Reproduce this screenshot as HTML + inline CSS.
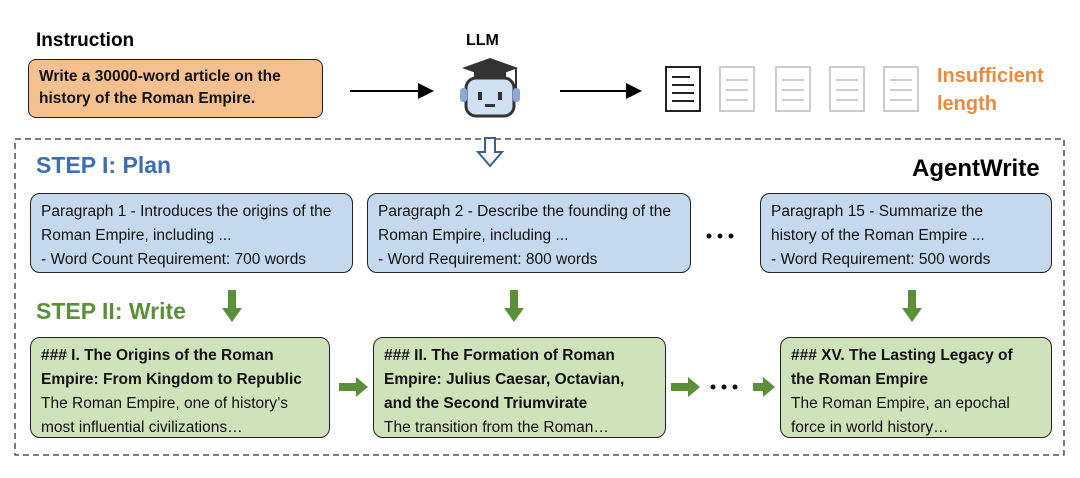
<!DOCTYPE html>
<html><head><style>
body{margin:0;width:1080px;height:478px;background:#fff;font-family:"Liberation Sans","DejaVu Sans",sans-serif;position:relative;overflow:hidden}
.a{position:absolute}
.box{position:absolute;border:1.5px solid #222;border-radius:10px;box-sizing:border-box;font-size:15.5px;line-height:24px;color:#111}
.blue{background:#c5d9ee;padding:6px 10px}
.green{background:#cfe3bb;padding:6px 10px}
b{font-weight:bold}
</style></head><body>
<div class="a" style="left:36px;top:30px;font-size:19px;font-weight:bold">Instruction</div>
<div class="box" style="left:28px;top:59px;width:295px;height:59px;background:#f5c08f;border-radius:8px;padding:6px 10px;font-weight:bold;font-size:15.5px;line-height:22px">Write a 30000-word article on the history of the Roman Empire.</div>
<div class="a" style="left:466px;top:32px;font-size:16px;font-weight:bold">LLM</div>
<div class="a" style="top:62px;font-size:20px;font-weight:bold;color:#e98a3c;line-height:28px;left:937px">Insufficient<br>length</div>
<div class="a" style="left:912px;top:155px;font-size:24px;font-weight:bold">AgentWrite</div>
<div class="a" style="left:36px;top:152px;font-size:23px;font-weight:bold;color:#3b6fb0">STEP I: Plan</div>
<div class="a" style="left:36px;top:298px;font-size:23px;font-weight:bold;color:#5b8f3a">STEP II: Write</div>
<svg class="a" style="left:0;top:0" width="1080" height="478">
<defs>
<marker id="k" markerWidth="8" markerHeight="8" refX="7" refY="4" orient="auto"><path d="M0,0 L8,4 L0,8z" fill="#000"/></marker>
</defs>
<rect x="15" y="139" width="1049" height="316" fill="none" stroke="#333" stroke-width="1.3" stroke-dasharray="6,4"/>
<line x1="350" y1="91" x2="432" y2="91" stroke="#000" stroke-width="2" marker-end="url(#k)"/>
<line x1="560" y1="91" x2="640" y2="91" stroke="#000" stroke-width="2" marker-end="url(#k)"/>
<path d="M462,68 L490,58 L518,68 L490,78z" fill="#333"/>
<rect x="474" y="70" width="32" height="10" fill="#333"/>
<line x1="516" y1="68" x2="516" y2="88" stroke="#333" stroke-width="2"/>
<rect x="466" y="78" width="48" height="38" rx="10" fill="#cfe0f0" stroke="#333" stroke-width="3"/>
<rect x="460" y="88" width="7" height="14" rx="3" fill="#8aa8d8"/><rect x="513" y="88" width="7" height="14" rx="3" fill="#8aa8d8"/>
<rect x="478" y="92" width="4" height="8" fill="#333"/><rect x="498" y="92" width="4" height="8" fill="#333"/><rect x="485" y="104" width="10" height="3" fill="#333"/>
<g fill="none" stroke-width="2">
<g stroke="#222"><rect x="666" y="67" width="34" height="44"/><line x1="672" y1="77" x2="690" y2="77"/><line x1="672" y1="85" x2="694" y2="85"/><line x1="672" y1="93" x2="694" y2="93"/><line x1="672" y1="101" x2="694" y2="101"/></g>
<g stroke="#ccc"><rect x="720" y="67" width="34" height="44"/><line x1="726" y1="80" x2="748" y2="80"/><line x1="726" y1="90" x2="748" y2="90"/><line x1="726" y1="100" x2="748" y2="100"/>
<rect x="776" y="67" width="34" height="44"/><line x1="782" y1="80" x2="804" y2="80"/><line x1="782" y1="90" x2="804" y2="90"/><line x1="782" y1="100" x2="804" y2="100"/>
<rect x="830" y="67" width="34" height="44"/><line x1="836" y1="80" x2="858" y2="80"/><line x1="836" y1="90" x2="858" y2="90"/><line x1="836" y1="100" x2="858" y2="100"/>
<rect x="884" y="67" width="34" height="44"/><line x1="890" y1="80" x2="912" y2="80"/><line x1="890" y1="90" x2="912" y2="90"/><line x1="890" y1="100" x2="912" y2="100"/></g>
</g>
<path d="M485,138 L495,138 L495,152 L502,152 L490,166 L478,152 L485,152z" fill="#fff" stroke="#3b5e9a" stroke-width="2"/>
<g fill="#5b8f3a">
<path d="M228,290 h8 v18 h6 l-10,14 l-10,-14 h6z"/>
<path d="M510,290 h8 v18 h6 l-10,14 l-10,-14 h6z"/>
<path d="M908,290 h8 v18 h6 l-10,14 l-10,-14 h6z"/>
<path d="M339,383 h17 v-6 l12,10 l-12,10 v-6 h-17z"/>
<path d="M671,383 h17 v-6 l12,10 l-12,10 v-6 h-17z"/>
<path d="M753,383 h10 v-6 l12,10 l-12,10 v-6 h-10z"/>
</g>
<g fill="#111"><circle cx="709" cy="236" r="2.5"/><circle cx="720" cy="236" r="2.5"/><circle cx="731" cy="236" r="2.5"/>
<circle cx="713" cy="387" r="2.5"/><circle cx="724" cy="387" r="2.5"/><circle cx="735" cy="387" r="2.5"/></g>
</svg>
<div class="box blue" style="left:30px;top:193px;width:323px;height:80px">Paragraph 1 - Introduces the origins of the Roman Empire, including ...<br>- Word Count Requirement: 700 words</div>
<div class="box blue" style="left:367px;top:193px;width:324px;height:80px">Paragraph 2 - Describe the founding of the Roman Empire, including ...<br>- Word Requirement: 800 words</div>
<div class="box blue" style="left:760px;top:193px;width:292px;height:80px">Paragraph 15 - Summarize the<br>history of the Roman Empire ...<br>- Word Requirement: 500 words</div>
<div class="box green" style="left:30px;top:337px;width:300px;height:101px"><b>### I. The Origins of the Roman Empire: From Kingdom to Republic</b><br>The Roman Empire, one of history’s most influential civilizations…</div>
<div class="box green" style="left:373px;top:337px;width:293px;height:101px"><b>### II. The Formation of Roman Empire: Julius Caesar, Octavian, and the Second Triumvirate</b><br>The transition from the Roman…</div>
<div class="box green" style="left:780px;top:337px;width:272px;height:101px"><b>### XV. The Lasting Legacy of<br>the Roman Empire</b><br>The Roman Empire, an epochal force in world history…</div>
</body></html>
